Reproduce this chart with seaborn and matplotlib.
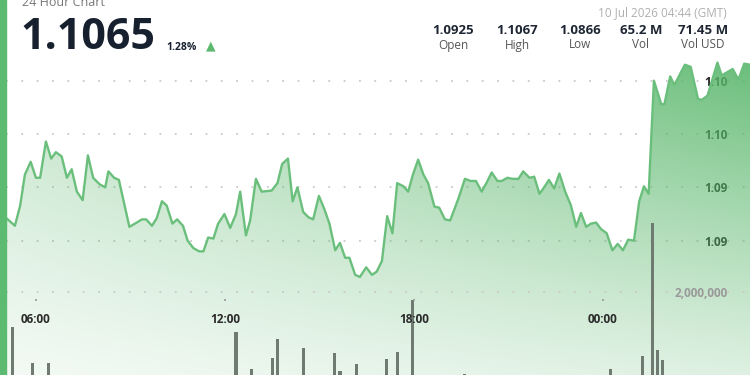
import numpy as np
import pandas as pd
import matplotlib
matplotlib.use("Agg")
import matplotlib.pyplot as plt
import seaborn as sns
from matplotlib.ticker import FixedLocator, FuncFormatter

# ---------------- data ----------------
START_MIN = 5 * 60 + 3  # first sample: 05:03 (minutes after midnight)

price_offset_min = [1, 17, 27, 36, 47, 57, 65, 76, 86, 95, 106, 116, 125, 135, 146, 156, 166, 178, 189, 195,
                    206, 215, 235, 249, 259, 267, 278, 287, 297, 306, 317, 326, 337, 346, 357, 368, 376, 385,
                    395, 404, 416, 427, 438, 446, 457, 465, 476, 487, 506, 517, 526, 537, 546, 555, 566, 576,
                    585, 596, 606, 616, 627, 636, 646, 654, 665, 674, 686, 697, 706, 716, 726, 736, 745, 757,
                    766, 775, 785, 795, 804, 816, 825, 836, 846, 862, 874, 885, 895, 906, 916, 925, 936, 944,
                    955, 965, 976, 985, 997, 1006, 1016, 1025, 1034, 1044, 1054, 1065, 1076, 1086, 1095, 1105,
                    1114, 1124, 1133, 1144, 1155, 1165, 1175, 1185, 1196, 1206, 1215, 1224, 1234, 1248, 1254,
                    1265, 1273, 1293, 1304, 1318, 1325, 1336, 1355, 1363, 1384, 1395, 1406, 1417]
price = [1.0921, 1.0914, 1.0933, 1.0962, 1.0974, 1.0959, 1.0959, 1.0993, 1.0977, 1.0983, 1.0979, 1.0959,
         1.0967, 1.0946, 1.0938, 1.0980, 1.0959, 1.0953, 1.0950, 1.0965, 1.0959, 1.0957, 1.0913, 1.0917,
         1.0920, 1.0920, 1.0914, 1.0921, 1.0937, 1.0933, 1.0916, 1.0920, 1.0914, 1.0900, 1.0893, 1.0890,
         1.0890, 1.0903, 1.0902, 1.0916, 1.0925, 1.0912, 1.0925, 1.0946, 1.0905, 1.0919, 1.0958, 1.0946,
         1.0947, 1.0954, 1.0972, 1.0977, 1.0937, 1.0950, 1.0927, 1.0922, 1.0920, 1.0942, 1.0930, 1.0916,
         1.0891, 1.0898, 1.0884, 1.0884, 1.0868, 1.0866, 1.0875, 1.0868, 1.0871, 1.0881, 1.0923, 1.0907,
         1.0954, 1.0951, 1.0946, 1.0962, 1.0976, 1.0962, 1.0954, 1.0932, 1.0931, 1.0920, 1.0919, 1.0940,
         1.0958, 1.0956, 1.0956, 1.0946, 1.0955, 1.0964, 1.0956, 1.0956, 1.0959, 1.0958, 1.0958, 1.0965,
         1.0959, 1.0960, 1.0944, 1.0950, 1.0957, 1.0949, 1.0963, 1.0946, 1.0933, 1.0913, 1.0926, 1.0913,
         1.0916, 1.0917, 1.0911, 1.0907, 1.0891, 1.0897, 1.0891, 1.0901, 1.0900, 1.0937, 1.0951, 1.0944,
         1.1050, 1.1028, 1.1028, 1.1054, 1.1046, 1.1065, 1.1063, 1.1033, 1.1032, 1.1036, 1.1067, 1.1055,
         1.1061, 1.1051, 1.1066, 1.1065]

vol_offset_min = [12, 51, 81, 438, 468, 507, 517, 567, 626, 636, 667, 724, 746, 775, 874, 1152, 1212, 1231, 1241, 1251]
volume = [1.15e6, 0.30e6, 0.30e6, 1.03e6, 0.14e6, 0.40e6, 0.86e6, 0.66e6, 0.52e6, 0.10e6, 0.27e6, 0.39e6,
          0.56e6, 1.81e6, 0.03e6, 0.14e6, 0.46e6, 3.68e6, 0.60e6, 0.36e6]

tick_minutes = [6 * 60, 12 * 60, 18 * 60, 24 * 60]
tick_labels = ["06:00", "12:00", "18:00", "00:00"]

price_ticks = [1.090, 1.095, 1.100, 1.105]
vol_ticks = [2_000_000]

header_price = "1.1065"
header_change = "1.28%"
stat_values = ["1.0925", "1.1067", "1.0866", "65.2 M", "71.45 M"]
stat_names = ["Open", "High", "Low", "Vol", "Vol USD"]
timestamp = "10 Jul 2026 04:44 (GMT)"

# ---------------- figure ----------------
sns.set_theme(style="white")
plt.rcParams["font.family"] = ["Open Sans", "DejaVu Sans"]

W, H = 750, 375
fig = plt.figure(figsize=(7.5, 3.75), dpi=100)
fig.patch.set_facecolor("white")

def fx(px):
    return px / W

def fy(py):
    return 1 - py / H

ax_left, ax_right, ax_top = 6, 750, 50
rect = [fx(ax_left), 0, fx(ax_right) - fx(ax_left), fy(ax_top)]
ax = fig.add_axes(rect)
ax.set_facecolor("none")

df = pd.DataFrame({"t": [START_MIN + m for m in price_offset_min], "price": price})
dv = pd.DataFrame({"t": [START_MIN + m for m in vol_offset_min], "vol": volume})

xmin, xmax = START_MIN + 0, START_MIN + 1417
ylo, yhi = 1.07741, 1.10788
ax.set_xlim(xmin, xmax)
ax.set_ylim(ylo, yhi)

# gradient fill under the line
poly = ax.fill_between(df["t"], df["price"], ylo, color="none", lw=0)
nx, ny = 300, 300
xs = np.linspace(0, 1, nx)
ts = np.linspace(1, 0, ny)  # top -> bottom
S, T = np.meshgrid(xs, ts)
alpha = (0.07 + 0.13 * S) + (0.30 + 0.42 * S) * T ** 1.1
alpha = np.clip(alpha, 0, 0.9)
img = np.zeros((ny, nx, 4))
img[..., 0] = 88 / 255
img[..., 1] = 182 / 255
img[..., 2] = 106 / 255
img[..., 3] = alpha
im = ax.imshow(img, extent=[xmin, xmax, ylo, yhi], aspect="auto", origin="upper", zorder=1,
               interpolation="bilinear")
path = poly.get_paths()[0]
im.set_clip_path(path, transform=ax.transData)

sns.lineplot(data=df, x="t", y="price", ax=ax, color="#6bbf7c", lw=1.7, zorder=3)

# price gridlines + labels
for p in price_ticks:
    ax.axhline(p, color="#c9c9c9", lw=1.3, ls=(0, (1, 7.5)), zorder=0.5)
ax.yaxis.set_major_locator(FixedLocator(price_ticks))
ax.yaxis.set_major_formatter(FuncFormatter(lambda v, pos: f"{v:.2f}"))
ax.yaxis.tick_right()
ax.tick_params(axis="y", direction="in", length=0, pad=-16, labelsize=8.5, labelcolor="#222222")
for lab in ax.get_yticklabels():
    lab.set_fontweight("bold")
    lab.set_horizontalalignment("right")
ax.tick_params(axis="x", bottom=False, labelbottom=False, top=False, labeltop=False)
ax.set_xlabel("")
ax.set_ylabel("")
for s in ax.spines.values():
    s.set_visible(False)

# volume axis
ax2 = fig.add_axes(rect, sharex=ax)
ax2.set_facecolor("none")
ax2.set_ylim(0, 7.86e6)
ax2.bar(dv["t"], dv["vol"], width=6.0, color="#6f7b71", lw=0, zorder=2, align="center")
for v in vol_ticks:
    ax2.axhline(v, color="#c9c9c9", lw=1.3, ls=(0, (1, 7.5)), zorder=0.5)
ax2.yaxis.set_major_locator(FixedLocator(vol_ticks))
ax2.yaxis.set_major_formatter(FuncFormatter(lambda v, pos: f"{v:,.0f}"))
ax2.yaxis.tick_right()
ax2.tick_params(axis="y", direction="in", length=0, pad=-16, labelsize=8.5, labelcolor="#9a9a9a")
for lab in ax2.get_yticklabels():
    lab.set_fontweight("bold")
    lab.set_horizontalalignment("right")
ax2.tick_params(axis="x", bottom=False, labelbottom=False, top=False, labeltop=False)
for s in ax2.spines.values():
    s.set_visible(False)

# time tick axis (thin strip at y=299)
axt = fig.add_axes([rect[0], fy(299), rect[2], 0.0001], sharex=ax)
axt.set_facecolor("none")
axt.set_yticks([])
for s in axt.spines.values():
    s.set_visible(False)
axt.xaxis.set_major_locator(FixedLocator(tick_minutes))
axt.xaxis.set_major_formatter(FuncFormatter(
    lambda v, pos: tick_labels[tick_minutes.index(int(round(v)))] if int(round(v)) in tick_minutes else ""))
axt.tick_params(axis="x", bottom=True, labelbottom=True, direction="out", length=1.2, width=1.2,
                color="#999999", pad=9, labelsize=8.5, labelcolor="#2b2b2b")
for lab in axt.get_xticklabels():
    lab.set_fontweight("bold")

# left green bar
fig.patches.append(matplotlib.patches.Rectangle((0, 0), fx(6), 1, transform=fig.transFigure,
                                                color="#5cbb70", zorder=10))

# header texts
fig.text(fx(22), fy(3), "24 Hour Chart", fontsize=9, color="#777777", ha="left", va="center")
fig.text(fx(20), fy(49), header_price, fontsize=31, fontweight="bold", color="#17202e",
         ha="left", va="baseline")
fig.text(fx(166), fy(50), header_change, fontsize=7.5, fontweight="bold", color="#17202e",
         ha="left", va="baseline")
fig.text(fx(211), fy(46), "▲", fontsize=9, color="#5cb96e", ha="center", va="center",
         family=["DejaVu Sans"])

fig.text(fx(727), fy(13), timestamp, fontsize=8.5, color="#b0b0b0", ha="right", va="center")
stat_x = [453, 517, 580, 641, 703]
for x, v, n in zip(stat_x, stat_values, stat_names):
    fig.text(fx(x), fy(30), v, fontsize=9.5, fontweight="bold", color="#1e2633", ha="center", va="center")
    fig.text(fx(x), fy(45), n, fontsize=8.5, color="#555555", ha="center", va="center")

fig.savefig("out.png", dpi=100, facecolor="white")
